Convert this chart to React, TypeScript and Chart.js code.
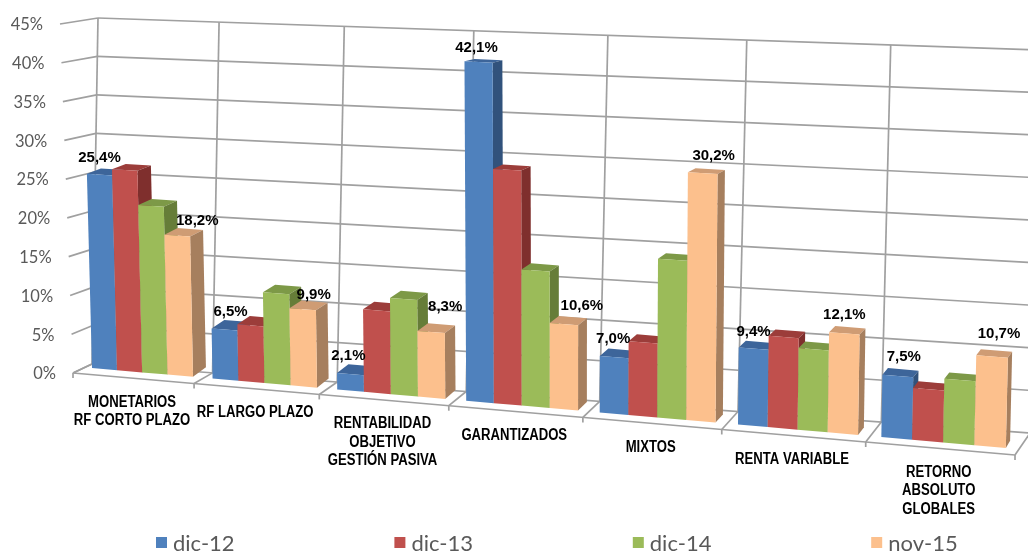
import React, { useEffect, useRef } from "react";
import { Chart, registerables } from "chart.js";

Chart.register(...registerables);

const categories: string[][] = [
  ["MONETARIOS", "RF CORTO PLAZO"],
  ["RF LARGO PLAZO"],
  ["RENTABILIDAD", "OBJETIVO", "GESTIÓN PASIVA"],
  ["GARANTIZADOS"],
  ["MIXTOS"],
  ["RENTA VARIABLE"],
  ["RETORNO", "ABSOLUTO", "GLOBALES"],
];
const dic12 = [25.4, 6.5, 2.1, 42.1, 7.0, 9.4, 7.5];
const dic13 = [26.2, 7.3, 10.5, 29.2, 9.1, 11.1, 6.2];
const dic14 = [21.8, 11.7, 12.2, 17.0, 19.5, 9.9, 7.6];
const nov15 = [18.2, 9.9, 8.3, 10.6, 30.2, 12.1, 10.7];

const seriesNames = ["dic-12", "dic-13", "dic-14", "nov-15"];
const faceColors = ["#4f81bd", "#c0504d", "#9bbb59", "#fcc08d"];
const sideColors = ["#31527c", "#7f2f2d", "#667d38", "#a67f5e"];
const topColors = ["#3d659a", "#9c3d3a", "#7d9947", "#cf9c74"];

// Which bars carry a value label, and how far each label sits from its bar top.
const labelled = [true, false, false, true];
const labelNudges: Record<string, [number, number][]> = {
  "0": [[0, -17], [6, -18], [-2, -18], [-2, -14], [-1, -18], [0, -17], [6, -19]],
  "3": [[20, -15], [11, -14], [14, -25], [18, -18], [11, -17], [0, -19], [7, -23]],
};

type P = [number, number];

const PERSPECTIVE = 1.13;
const warp = (u: number) => u / (PERSPECTIVE + (1 - PERSPECTIVE) * u);
const mix = (a: P, b: P, t: number): P => [a[0] + (b[0] - a[0]) * t, a[1] + (b[1] - a[1]) * t];

// A plane of the 3D view: u runs along the categories, v up the value axis.
function plane(bl: P, br: P, tr: P, tl: P, lift = 0) {
  return (u: number, v: number): P => {
    const f = warp(u);
    return mix(mix(bl, br, f), mix(tl, tr, f), v + lift * v * v * v);
  };
}

const wall = plane([92, 364], [1030, 433], [1040, 50], [98, 18]);
const barFront = plane([92, 368], [1030, 450], [1039, 70], [83, 26], 0.018);
const barBack = plane([106, 358], [1034, 443], [1043, 68], [97, 24], 0.018);
const frontEdge = (u: number): P => mix([73, 373], [1015, 455], warp(u));
const floor = (u: number, d: number): P => mix(frontEdge(u), wall(u, 0), d);
const leftEdge = (v: number): P => [73 - 13 * v, 373 - 349 * v];

const GRID = "#a0a0a0";
const TICK_TEXT = "#595959";
const BAR_SHIFT = 0.08 / 7;

function line(ctx: CanvasRenderingContext2D, a: P, b: P) {
  ctx.beginPath();
  ctx.moveTo(a[0], a[1]);
  ctx.lineTo(b[0], b[1]);
  ctx.stroke();
}

function poly(ctx: CanvasRenderingContext2D, pts: P[], fill: string) {
  ctx.beginPath();
  pts.forEach((p, i) => (i ? ctx.lineTo(p[0], p[1]) : ctx.moveTo(p[0], p[1])));
  ctx.closePath();
  ctx.fillStyle = fill;
  ctx.fill();
}

const view3d = {
  id: "view3d",
  beforeDatasetDraw() {
    return false;
  },
  beforeDatasetsDraw(chart: any) {
    const { ctx, scales } = chart;
    const y = scales.y;
    const n = categories.length;
    ctx.save();
    ctx.strokeStyle = GRID;
    ctx.lineWidth = 1.7;
    y.ticks.forEach((t: any) => {
      const v = t.value / y.max;
      line(ctx, leftEdge(v), wall(0, v));
      line(ctx, wall(0, v), wall(1, v));
      const s = leftEdge(v);
      ctx.fillStyle = TICK_TEXT;
      ctx.font = "16.5px Lato";
      ctx.textAlign = "right";
      ctx.textBaseline = "middle";
      ctx.fillText(t.label, s[0] - 17, s[1] + 1);
    });
    for (let i = 0; i <= n; i++) {
      const u = i / n;
      line(ctx, wall(u, 0), wall(u, 1));
      line(ctx, floor(u, 0), floor(u, 1));
      const f = floor(u, 0);
      line(ctx, f, [f[0], f[1] + 5]);
    }
    line(ctx, floor(0, 0), floor(1, 0));

    ctx.fillStyle = "#000000";
    ctx.font = "bold 16px Liberation Sans";
    ctx.textAlign = "center";
    ctx.textBaseline = "top";
    categories.forEach((lines, i) => {
      const m = floor((i + 0.5) / n, 0);
      lines.forEach((l, k) => {
        const w = ctx.measureText(l).width * 0.82;
        ctx.fillText(l, m[0] - 1, m[1] + 16 + k * 18.5, w);
      });
    });
    ctx.restore();
  },
  afterDatasetsDraw(chart: any) {
    const { ctx, chartArea: a } = chart;
    const toU = (px: number) => (px - a.left) / a.width - BAR_SHIFT;
    const toV = (py: number) => (a.bottom - py) / a.height;
    ctx.save();
    categories.forEach((_, i) => {
      seriesNames.forEach((_s, ds) => {
        const el = chart.getDatasetMeta(ds).data[i];
        const u0 = toU(el.x - el.width / 2);
        const u1 = toU(el.x + el.width / 2);
        const v0 = toV(el.base);
        const v1 = toV(el.y);
        poly(ctx, [barFront(u0, v1), barFront(u1, v1), barBack(u1, v1), barBack(u0, v1)], topColors[ds]);
        poly(ctx, [barFront(u1, v0), barBack(u1, v0), barBack(u1, v1), barFront(u1, v1)], sideColors[ds]);
        poly(ctx, [barFront(u0, v0), barFront(u1, v0), barFront(u1, v1), barFront(u0, v1)], faceColors[ds]);
      });
    });
    ctx.fillStyle = "#000000";
    ctx.font = "bold 15px Liberation Sans";
    ctx.textAlign = "center";
    ctx.textBaseline = "middle";
    seriesNames.forEach((_s, ds) => {
      if (!labelled[ds]) return;
      const meta = chart.getDatasetMeta(ds);
      const values = chart.data.datasets[ds].data as number[];
      meta.data.forEach((el: any, i: number) => {
        const c = barFront(toU(el.x), toV(el.y));
        const [nx, ny] = labelNudges[String(ds)][i];
        ctx.fillText(values[i].toFixed(1).replace(".", ",") + "%", c[0] + nx, c[1] + ny);
      });
    });

    // legend
    ctx.font = "22px Lato";
    ctx.textAlign = "left";
    seriesNames.forEach((name, ds) => {
      const x = 156 + ds * 238.4;
      ctx.fillStyle = faceColors[ds];
      ctx.fillRect(x, 537, 11, 11);
      ctx.fillStyle = TICK_TEXT;
      ctx.fillText(name, x + 17, 544);
    });
    ctx.restore();
  },
};

export default function App() {
  const ref = useRef<HTMLCanvasElement>(null);
  useEffect(() => {
    if (!ref.current) return;
    const series = [dic12, dic13, dic14, nov15];
    const chart = new Chart(ref.current, {
      type: "bar",
      data: {
        labels: categories,
        datasets: seriesNames.map((label, i) => ({
          label,
          data: series[i],
          backgroundColor: faceColors[i],
          categoryPercentage: 0.84,
          barPercentage: 1,
        })),
      },
      options: {
        responsive: false,
        animation: false,
        plugins: { legend: { display: false }, tooltip: { enabled: false } },
        scales: {
          x: { display: false },
          y: {
            display: false,
            min: 0,
            max: 45,
            ticks: { stepSize: 5, callback: (v: any) => `${v}%` },
          },
        },
      },
      plugins: [view3d as any],
    });
    return () => chart.destroy();
  }, []);
  return (
    <canvas
      ref={ref}
      width={1028}
      height={552}
      style={{ position: "absolute", left: 0, top: 0, display: "block" }}
    />
  );
}
